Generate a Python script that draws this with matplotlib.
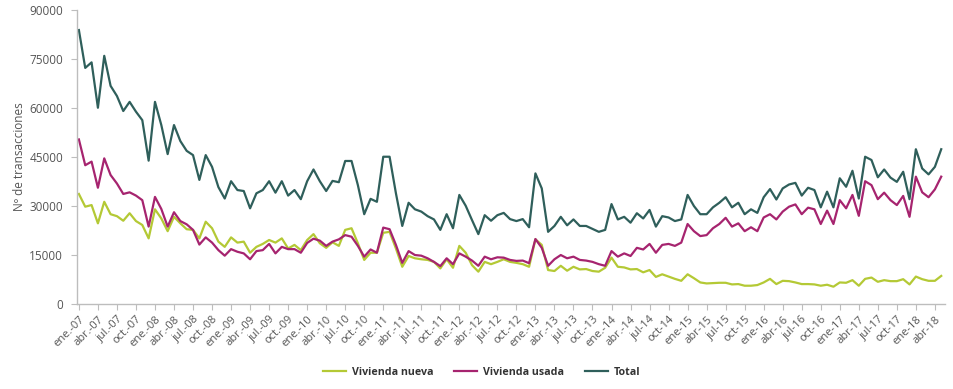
import numpy as np
import matplotlib.pyplot as plt

plt.rcParams['font.family'] = ['Open Sans', 'DejaVu Sans']

# ---------------- datos mensuales ene-07 .. may-18 ----------------
nueva = [33.7, 29.8, 30.3, 24.7, 31.3, 27.5, 26.9, 25.5, 27.8, 25.4,
         24.2, 20.1, 29.0, 26.2, 22.3, 26.7, 24.7, 22.9, 22.7, 20.1,
         25.2, 23.2, 19.1, 17.5, 20.4, 18.8, 19.1, 15.7, 17.5, 18.4,
         19.6, 18.8, 20.1, 17.0, 18.1, 16.5, 19.6, 21.4, 18.6, 17.2,
         18.9, 17.8, 22.7, 23.2, 18.6, 13.5, 15.7, 15.7, 21.8, 22.1,
         17.0, 11.4, 14.7, 14.0, 13.7, 13.5, 12.9, 10.9, 13.7, 11.1,
         17.8, 15.7, 11.9, 9.9, 12.9, 12.2, 12.9, 13.7, 12.9, 12.6,
         12.2, 11.4, 19.8, 18.1, 10.4, 10.1, 11.7, 10.2, 11.4, 10.6,
         10.7, 10.1, 9.9, 11.1, 14.2, 11.4, 11.2, 10.6, 10.7, 9.7,
         10.4, 8.3, 9.1, 8.4, 7.7, 7.1, 9.1, 7.9, 6.6, 6.3,
         6.4, 6.5, 6.5, 6.0, 6.1, 5.6, 5.6, 5.8, 6.6, 7.7,
         6.1, 7.1, 7.0, 6.6, 6.1, 6.1, 6.0, 5.6, 5.9, 5.3,
         6.6, 6.5, 7.3, 5.6, 7.7, 8.1, 6.8, 7.3, 7.0, 7.0,
         7.6, 6.0, 8.4, 7.6, 7.1, 7.1, 8.6]

usada = [50.4, 42.5, 43.6, 35.6, 44.6, 39.5, 36.9, 33.7, 34.2, 33.2,
         31.8, 23.7, 32.8, 29.1, 23.7, 28.1, 25.4, 24.4, 22.7, 18.2,
         20.4, 18.8, 16.5, 14.8, 16.8, 16.0, 15.5, 13.7, 16.2, 16.5,
         18.4, 15.5, 17.5, 16.8, 16.8, 15.7, 18.7, 20.0, 19.4, 17.8,
         19.1, 19.8, 21.1, 20.6, 17.8, 14.5, 16.7, 15.7, 23.4, 22.9,
         18.1, 12.6, 16.2, 15.0, 14.8, 14.0, 12.9, 11.6, 14.0, 12.2,
         15.5, 14.5, 13.3, 11.7, 14.5, 13.7, 14.3, 14.2, 13.5, 13.2,
         13.3, 12.5, 19.9, 17.2, 11.7, 13.7, 15.0, 14.0, 14.5, 13.5,
         13.3, 12.9, 12.2, 11.7, 16.2, 14.5, 15.5, 14.7, 17.2, 16.7,
         18.4, 15.7, 18.1, 18.4, 17.8, 18.8, 24.5, 22.3, 20.8, 21.1,
         23.2, 24.5, 26.4, 23.7, 24.7, 22.3, 23.5, 22.3, 26.5, 27.5,
         25.9, 28.3, 29.8, 30.5, 27.5, 29.5, 29.0, 24.5, 28.6, 24.5,
         31.8, 29.3, 33.4, 27.0, 37.6, 36.4, 32.1, 34.1, 31.8, 30.3,
         33.1, 26.7, 39.0, 34.2, 32.7, 35.1, 39.0]

total = [83.9, 72.3, 74.0, 60.1, 76.0, 66.8, 63.7, 59.1, 61.9, 58.9,
         56.3, 43.9, 61.9, 54.8, 45.9, 54.8, 49.9, 46.9, 45.6, 38.0,
         45.6, 42.0, 35.8, 32.3, 37.6, 34.9, 34.6, 29.3, 33.9, 34.9,
         37.6, 34.1, 37.6, 33.2, 34.9, 32.1, 37.6, 41.2, 37.6, 34.6,
         37.7, 37.3, 43.8, 43.8, 36.4, 27.5, 32.2, 31.3, 45.1, 45.1,
         33.9, 23.9, 31.0, 29.0, 28.3, 26.9, 25.9, 22.7, 27.5, 23.2,
         33.4, 30.1, 25.7, 21.4, 27.2, 25.5, 27.2, 27.9, 26.0, 25.4,
         26.0, 23.5, 40.0, 35.4, 22.1, 23.9, 26.7, 24.1, 25.9, 23.9,
         23.9, 23.0, 22.1, 22.7, 30.6, 25.9, 26.7, 24.9, 27.8, 26.2,
         28.8, 23.7, 26.9, 26.5, 25.4, 25.9, 33.4, 30.0, 27.5, 27.5,
         29.6, 31.0, 32.7, 29.6, 31.0, 27.5, 29.0, 27.9, 32.7, 35.2,
         32.0, 35.4, 36.6, 37.1, 33.2, 35.6, 34.9, 29.6, 34.4, 29.6,
         38.5, 35.9, 40.8, 32.3, 45.1, 44.1, 38.8, 41.2, 38.7, 37.4,
         40.5, 32.1, 47.4, 41.5, 39.7, 42.0, 47.4]

tick_labels = ["ene.-07", "abr.-07", "jul.-07", "oct.-07", "ene.-08", "abr.-08",
               "jul.-08", "oct.-08", "ene.-09", "abr.-09", "jul.-09", "oct.-09",
               "ene.-10", "abr.-10", "jul.-10", "oct.-10", "ene.-11", "abr.-11",
               "jul.-11", "oct.-11", "ene.-12", "abr.-12", "jul.-12", "oct.-12",
               "ene.-13", "abr.-13", "jul.-13", "oct.-13", "ene.-14", "abr.-14",
               "jul-14", "oct-14", "ene-15", "abr-15", "jul-15", "oct-15",
               "ene-16", "abr-16", "jul-16", "oct-16", "ene-17", "abr-17",
               "jul-17", "oct-17", "ene-18", "abr-18"]

c_nueva = "#b4c935"
c_usada = "#a6246f"
c_total = "#2f5f5b"
grey = "#bdbdbd"
txt = "#555555"

x = np.arange(len(total))
fig = plt.figure(figsize=(9.54, 3.89), dpi=100)
ax = fig.add_axes([0.0807, 0.2185, 0.9099, 0.7555])

ax.plot(x, np.array(nueva) * 1000, color=c_nueva, lw=1.6, label="Vivienda nueva")
ax.plot(x, np.array(usada) * 1000, color=c_usada, lw=1.6, label="Vivienda usada")
ax.plot(x, np.array(total) * 1000, color=c_total, lw=1.6, label="Total")

ax.set_xlim(-0.3, 136.6)
ax.set_ylim(0, 90000)
ax.set_yticks(np.arange(0, 90001, 15000))
ax.set_xticks(np.arange(0, 3 * len(tick_labels), 3))
ax.set_xticklabels(tick_labels, rotation=45, ha="right", rotation_mode="anchor")

for s in ["top", "right"]:
    ax.spines[s].set_visible(False)
for s in ["left", "bottom"]:
    ax.spines[s].set_color(grey)
    ax.spines[s].set_linewidth(1.0)
ax.tick_params(axis="both", colors=grey, labelcolor=txt, length=4, width=0.8)
ax.tick_params(axis="y", labelsize=8.5, pad=6)
ax.tick_params(axis="x", labelsize=8, pad=3)

ax.set_ylabel("Nº de transacciones", fontsize=8.5, color=txt, labelpad=2)

leg = fig.legend(loc="center", bbox_to_anchor=(0.505, 0.042), ncol=3, frameon=False,
                 handlelength=2.15, handletextpad=0.6, columnspacing=1.9,
                 prop={"weight": "bold", "size": 7.7})
for t in leg.get_texts():
    t.set_color("#333333")

fig.savefig("out.png", dpi=100)
